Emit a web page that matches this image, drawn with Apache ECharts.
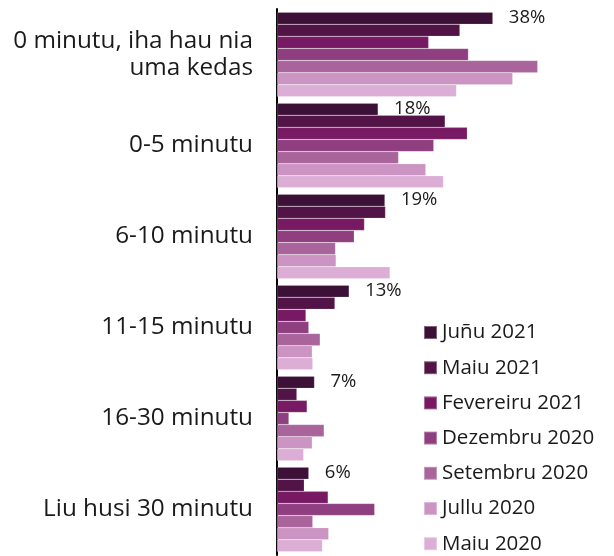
<!DOCTYPE html>
<html><head><meta charset="utf-8">
<script src="https://cdn.jsdelivr.net/npm/echarts@6/dist/echarts.min.js"></script>
<style>html,body{margin:0;padding:0;background:#fff}#c{width:614px;height:556px}</style>
</head><body><div id="c"></div>
<script>
const categories = ['0 minutu, iha hau nia\numa kedas','0-5 minutu','6-10 minutu','11-15 minutu','16-30 minutu','Liu husi 30 minutu'];
const seriesNames = ['Juñu 2021','Maiu 2021','Fevereiru 2021','Dezembru 2020','Setembru 2020','Jullu 2020','Maiu 2020'];
const jun2021 = [38, 17.8, 19.0, 12.7, 6.6, 5.6];
const mai2021 = [32.2, 29.6, 19.1, 10.2, 3.5, 4.8];
const fev2021 = [26.7, 33.5, 15.4, 5.1, 5.3, 9.0];
const dez2020 = [33.7, 27.6, 13.6, 5.6, 2.1, 17.2];
const set2020 = [45.9, 21.4, 10.3, 7.6, 8.3, 6.3];
const jul2020 = [41.5, 26.2, 10.4, 6.2, 6.2, 9.1];
const mai2020 = [31.6, 29.3, 19.9, 6.3, 4.7, 8.0];
const colors = ['#3d1038','#521447','#771a63','#8f3f80','#a8649b','#cb94c2','#ddaed5'];
const allData = [jun2021, mai2021, fev2021, dez2020, set2020, jul2020, mai2020];

const FONT = 'Open Sans';
const chart = echarts.init(document.getElementById('c'), null, {renderer: 'canvas'});
const series = allData.map((d, i) => ({
  name: seriesNames[i],
  type: 'bar',
  data: d,
  barGap: '0%',
  barCategoryGap: '7%',
  itemStyle: {color: colors[i], borderColor: 'rgba(255,255,255,0.35)', borderWidth: 0.5},
  label: i === 0 ? {
    show: true, position: 'right', distance: 16,
    fontFamily: FONT, fontSize: 18.5, color: '#1a1a1a',
    formatter: p => Math.round(p.value) + '%'
  } : {show: false},
  emphasis: {disabled: true},
  animation: false
}));
chart.setOption({
  animation: false,
  color: colors,
  grid: {left: 277, top: 9, width: 284, height: 546, containLabel: false},
  xAxis: {type: 'value', min: 0, max: 50, show: false},
  yAxis: {
    type: 'category', data: categories, inverse: true,
    axisLine: {show: true, lineStyle: {color: '#000', width: 2}},
    axisTick: {show: false},
    axisLabel: {fontFamily: FONT, fontSize: 24.3, color: '#1a1a1a', margin: 24, lineHeight: 27.5, align: 'right', padding: [6, 0, 0, 0]}
  },
  legend: {
    data: seriesNames, orient: 'vertical', left: 423, top: 322, height: 240, padding: 0,
    itemWidth: 13, itemHeight: 13, itemGap: 14.2, icon: 'rect',
    textStyle: {fontFamily: FONT, fontSize: 20.5, color: '#1a1a1a', lineHeight: 20}
  },
  series: series
});
</script></body></html>
